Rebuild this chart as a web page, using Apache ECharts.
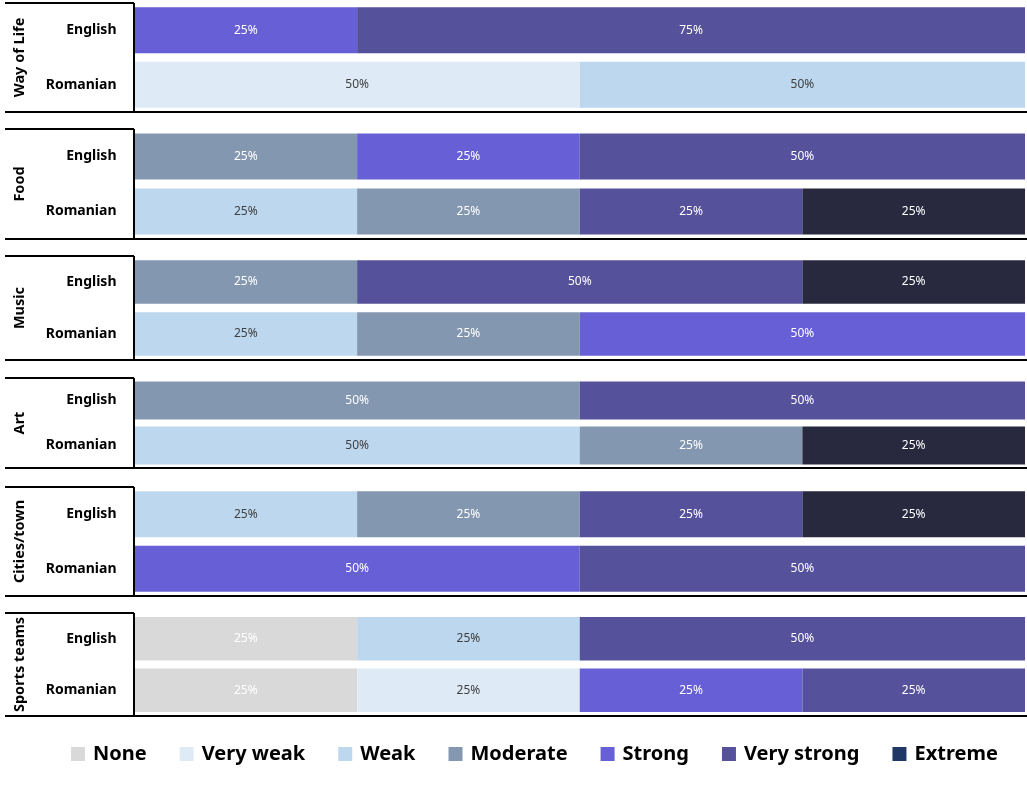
<!DOCTYPE html>
<html>
<head>
<meta charset="utf-8">
<script src="https://cdn.jsdelivr.net/npm/echarts@6/dist/echarts.min.js"></script>
<style>
html,body{margin:0;padding:0;background:#fff;}
#chart{width:1027px;height:794px;}
</style>
</head>
<body>
<div id="chart"></div>
<script>
// ---- data ----
const groups = ['Way of Life', 'Food', 'Music', 'Art', 'Cities/town', 'Sports teams'];
const languages = ['English', 'Romanian'];
const levels = ['None', 'Very weak', 'Weak', 'Moderate', 'Strong', 'Very strong', 'Extreme'];
// values in order: [group0 English, group0 Romanian, group1 English, group1 Romanian, ...]
const none       = [0, 0,   0, 0,   0, 0,   0, 0,   0, 0,   25, 25];
const veryWeak   = [0, 50,  0, 0,   0, 0,   0, 0,   0, 0,   0, 25];
const weak       = [0, 50,  0, 25,  0, 25,  0, 50,  25, 0,  25, 0];
const moderate   = [0, 0,   25, 25, 25, 25, 50, 25, 25, 0,  0, 0];
const strong     = [25, 0,  25, 0,  0, 50,  0, 0,   0, 50,  0, 25];
const veryStrong = [75, 0,  50, 25, 50, 0,  50, 0,  25, 50, 50, 25];
const extreme    = [0, 0,   0, 25,  25, 0,  0, 25,  25, 0,  0, 0];
const levelValues = [none, veryWeak, weak, moderate, strong, veryStrong, extreme];

// ---- styles ----
const barColors = ['#d9d9d9', '#deebf7', '#bdd7ee', '#8497b0', '#675fd6', '#55519a', '#28283f'];
const legendColors = ['#d9d9d9', '#deebf7', '#bdd7ee', '#8497b0', '#675fd6', '#55519a', '#203864'];
const labelColors = ['#ffffff', '#404040', '#404040', '#ffffff', '#ffffff', '#ffffff', '#ffffff'];
const boxTop = [3, 129, 256, 378, 487, 613];
const boxBottom = [112, 239, 360, 468, 596, 716];
const lineX = 134;
const gridLeft = 134.5;
const FONT = '"Noto Sans", "Open Sans", sans-serif';

const chart = echarts.init(document.getElementById('chart'), null, {renderer: 'canvas'});

const grids = [], xAxes = [], yAxes = [], series = [], graphics = [];
groups.forEach((g, gi) => {
  grids.push({left: gridLeft, right: 2, top: boxTop[gi], height: boxBottom[gi] - boxTop[gi], containLabel: false});
  xAxes.push({gridIndex: gi, type: 'value', min: 0, max: 100, show: false});
  yAxes.push({
    gridIndex: gi, type: 'category', data: languages, inverse: true,
    axisTick: {show: false},
    axisLine: {show: false},
    axisLabel: {color: '#000', fontWeight: 'bold', fontSize: 14, fontFamily: FONT, margin: 18},
    name: g, nameLocation: 'middle', nameRotate: 90, nameGap: 107,
    nameTextStyle: {color: '#000', fontWeight: 'bold', fontSize: 14.5, fontFamily: FONT}
  });
  levels.forEach((lv, li) => {
    series.push({
      type: 'bar', name: lv, xAxisIndex: gi, yAxisIndex: gi, stack: 'g' + gi,
      barCategoryGap: '16%',
      data: [levelValues[li][gi * 2], levelValues[li][gi * 2 + 1]],
      itemStyle: {color: barColors[li]},
      label: {
        show: true, position: 'inside', color: labelColors[li], fontSize: 12, fontFamily: FONT,
        formatter: p => (p.value > 0 ? p.value + '%' : '')
      },
      emphasis: {disabled: true}
    });
  });
  // frame lines
  const ls = {stroke: '#000', lineWidth: 2};
  graphics.push({type: 'line', shape: {x1: 5, y1: boxTop[gi], x2: lineX, y2: boxTop[gi]}, style: ls, z: 100});
  graphics.push({type: 'line', shape: {x1: lineX, y1: boxTop[gi], x2: lineX, y2: boxBottom[gi]}, style: ls, z: 100});
  graphics.push({type: 'line', shape: {x1: 5, y1: boxBottom[gi], x2: 1027, y2: boxBottom[gi]}, style: ls, z: 100});
});

chart.setOption({
  animation: false,
  backgroundColor: '#fff',
  grid: grids,
  xAxis: xAxes,
  yAxis: yAxes,
  series: series,
  graphic: graphics,
  legend: {
    data: levels.map((lv, li) => ({name: lv, itemStyle: {color: legendColors[li]}})),
    top: 739, left: 66,
    itemWidth: 14, itemHeight: 14, itemGap: 33,
    icon: 'rect',
    textStyle: {color: '#000', fontWeight: 'bold', fontSize: 20, fontFamily: FONT, padding: [0, 0, 0, 3]}
  }
});
</script>
</body>
</html>
